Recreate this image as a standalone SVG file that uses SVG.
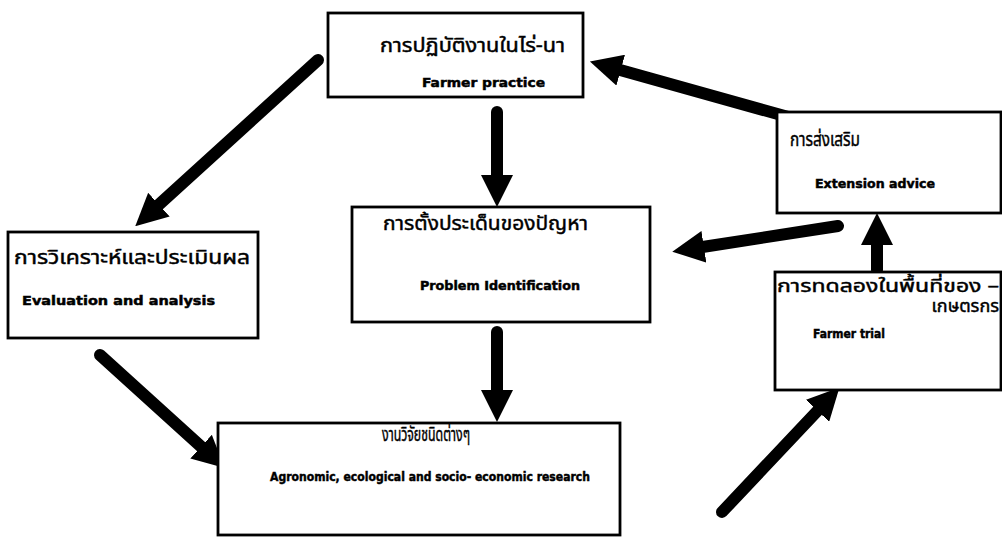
<svg xmlns="http://www.w3.org/2000/svg" width="1002" height="542" viewBox="0 0 1002 542">
<style>
.box{fill:#fff;stroke:#000;stroke-width:2.8}
.th{font-family:"Noto Sans Thai","Noto Sans","DejaVu Sans",sans-serif;font-size:19px;fill:#000;stroke:#000;stroke-width:0.45}
.en{font-family:"DejaVu Sans","Liberation Sans",sans-serif;font-weight:bold;font-size:13px;fill:#000;stroke:#000;stroke-width:0.5}
.arr{stroke:#000;stroke-width:12;fill:none;stroke-linecap:round;marker-end:url(#ah)}
</style>
<defs>
<marker id="ah" markerUnits="userSpaceOnUse" markerWidth="32" markerHeight="32" refX="8" refY="16" orient="auto" viewBox="0 0 32 32">
<path d="M0,0 L32,16 L0,32 Z" fill="#000"/>
</marker>
</defs>
<rect width="1002" height="542" fill="#fff"/>
<g id="connectors">
<path class="arr" d="M318,60 L153,210"/>
<path class="arr" d="M497,112 L497,183"/>
<path class="arr" d="M497,332 L497,398"/>
<path class="arr" d="M100,355 L207,452"/>
<path class="arr" d="M722,512 L823,405"/>
<path class="arr" d="M877,270 L877,237"/>
<path class="arr" d="M838,226 L696,248"/>
<path class="arr" d="M835,130 L613,68"/>
</g>
<g id="farmer-practice">
<rect class="box" x="328" y="13" width="255" height="84"/>
<text class="th" x="380" y="52" textLength="185" lengthAdjust="spacingAndGlyphs">การปฏิบัติงานในไร่-นา</text>
<text class="en" x="422" y="87" textLength="123" lengthAdjust="spacingAndGlyphs">Farmer practice</text>
</g>
<g id="extension-advice">
<rect class="box" x="777" y="112" width="224" height="101"/>
<text class="th" x="790" y="146" textLength="70" lengthAdjust="spacingAndGlyphs">การส่งเสริม</text>
<text class="en" x="815" y="188" textLength="120" lengthAdjust="spacingAndGlyphs">Extension advice</text>
</g>
<g id="evaluation">
<rect class="box" x="8" y="232" width="250" height="106"/>
<text class="th" x="14" y="264" textLength="236" lengthAdjust="spacingAndGlyphs">การวิเคราะห์และประเมินผล</text>
<text class="en" x="22" y="305" textLength="193" lengthAdjust="spacingAndGlyphs">Evaluation and analysis</text>
</g>
<g id="problem-identification">
<rect class="box" x="352" y="207" width="298" height="115"/>
<text class="th" x="383" y="230" textLength="205" lengthAdjust="spacingAndGlyphs">การตั้งประเด็นของปัญหา</text>
<text class="en" x="420" y="290" textLength="160" lengthAdjust="spacingAndGlyphs">Problem Identification</text>
</g>
<g id="farmer-trial">
<rect class="box" x="775" y="272" width="226" height="118"/>
<text class="th" x="777" y="292" textLength="222" lengthAdjust="spacingAndGlyphs" style="font-size:18px">การทดลองในพื้นที่ของ –</text>
<text class="th" x="999" y="312" text-anchor="end" style="font-size:18px">เกษตรกร</text>
<text class="en" x="813" y="338" textLength="72" lengthAdjust="spacingAndGlyphs">Farmer trial</text>
</g>
<g id="research">
<rect class="box" x="218" y="423" width="402" height="112"/>
<text class="th" x="382" y="441" textLength="88" lengthAdjust="spacingAndGlyphs">งานวิจัยชนิดต่างๆ</text>
<text class="en" x="270" y="481" textLength="320" lengthAdjust="spacingAndGlyphs">Agronomic, ecological and socio- economic research</text>
</g>
</svg>
